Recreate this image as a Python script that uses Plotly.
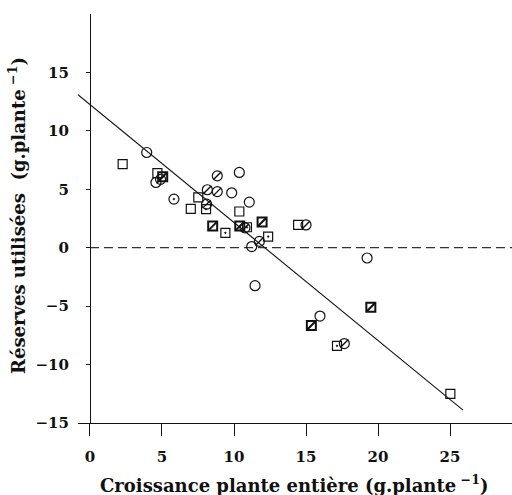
import plotly.graph_objects as go

# ---- data ----
circle_x = [3.94, 4.58, 9.84, 10.37, 11.06, 11.23, 11.46, 19.24, 15.97]
circle_y = [8.15, 5.58, 4.70, 6.44, 3.90, 0.10, -3.25, -0.88, -5.85]

circdot_x = [5.83]
circdot_y = [4.16]

square_x = [2.27, 4.68, 7.52, 7.00, 10.37, 14.45, 25.02]
square_y = [7.15, 6.38, 4.30, 3.33, 3.10, 1.95, -12.50]

slashcirc_x = [8.84, 8.15, 8.84, 8.10, 11.76, 15.00, 17.66, 4.90, 10.76]
slashcirc_y = [6.15, 4.96, 4.80, 3.73, 0.54, 1.95, -8.20, 5.85, 1.70]

hatchsq_x = [5.05, 8.52, 10.40, 11.95, 15.37, 19.50]
hatchsq_y = [6.07, 1.85, 1.85, 2.20, -6.65, -5.10]

dotsq_x = [8.06, 9.40, 10.90, 12.37, 17.15]
dotsq_y = [3.30, 1.27, 1.75, 0.95, -8.40]

# regression line (endpoints)
reg_x = [-1.1, 25.9]
reg_y = [13.36, -13.9]

# horizontal reference at zero
zero_x = [0, 29.3]
zero_y = [0, 0]

x_ticks = [0, 5, 10, 15, 20, 25]
y_ticks = [-15, -10, -5, 0, 5, 10, 15]

FONT = "DejaVu Serif"
BLACK = "#111111"

fig = go.Figure()

fig.add_trace(go.Scatter(x=zero_x, y=zero_y, mode="lines",
                         line=dict(color="#333333", width=1.3, dash="9px,5px"),
                         hoverinfo="skip"))
fig.add_trace(go.Scatter(x=reg_x, y=reg_y, mode="lines",
                         line=dict(color=BLACK, width=1.1), hoverinfo="skip"))

def mk(x, y, symbol, size, lw=1.2):
    fig.add_trace(go.Scatter(x=x, y=y, mode="markers",
                             marker=dict(symbol=symbol, size=size, color=BLACK,
                                         line=dict(color=BLACK, width=lw))))

mk(circle_x, circle_y, "circle-open", 10)
mk(circdot_x, circdot_y, "circle-open-dot", 10)
mk(square_x, square_y, "square-open", 9)
mk(slashcirc_x, slashcirc_y, "circle-open", 10)
mk(slashcirc_x, slashcirc_y, "line-ne-open", 8, 1.4)
mk(hatchsq_x, hatchsq_y, "square-open", 9, 2.0)
mk(hatchsq_x, hatchsq_y, "line-ne-open", 8, 2.0)
mk(dotsq_x, dotsq_y, "square-open-dot", 9)

L, R, T, B = 78, 0, 14, 72
W, H = 512, 495
pw = W - L - R
ph = H - T - B

tickfont = dict(family=FONT, size=15, color=BLACK, weight="bold")

fig.update_layout(
    width=W, height=H,
    margin=dict(l=L, r=R, t=T, b=B),
    plot_bgcolor="white", paper_bgcolor="white",
    showlegend=False,
    font=dict(family=FONT, size=15, color=BLACK),
    xaxis=dict(range=[-0.83, 29.3], tickvals=x_ticks, showgrid=False,
               zeroline=False, showline=True, linecolor=BLACK, linewidth=1.3,
               ticks="outside", ticklen=12, tickwidth=1.2, tickcolor=BLACK,
               ticklabelstandoff=8, tickfont=tickfont),
    yaxis=dict(range=[-15, 20], tickvals=y_ticks, showgrid=False,
               zeroline=False, showline=True, linecolor=BLACK, linewidth=1.3,
               anchor="free", position=(90 - L) / pw,
               ticks="outside", ticklen=4, tickwidth=1.2, tickcolor=BLACK,
               ticklabelstandoff=14, tickfont=tickfont),
)

titlefont = dict(family=FONT, size=18, color=BLACK, weight="bold")

fig.add_annotation(text="Croissance plante entière (g.plante<sup> −1</sup>)",
                   xref="paper", yref="paper", x=(294 - L) / pw, y=(423 - 484) / ph,
                   xanchor="center", yanchor="middle", showarrow=False,
                   font=titlefont)
fig.add_annotation(text="Réserves utilisées  (g.plante<sup> −1</sup>)",
                   xref="paper", yref="paper", x=(17 - L) / pw, y=(423 - 216) / ph,
                   xanchor="center", yanchor="middle", textangle=-90, showarrow=False,
                   font=titlefont)

fig.write_html("out.html")
